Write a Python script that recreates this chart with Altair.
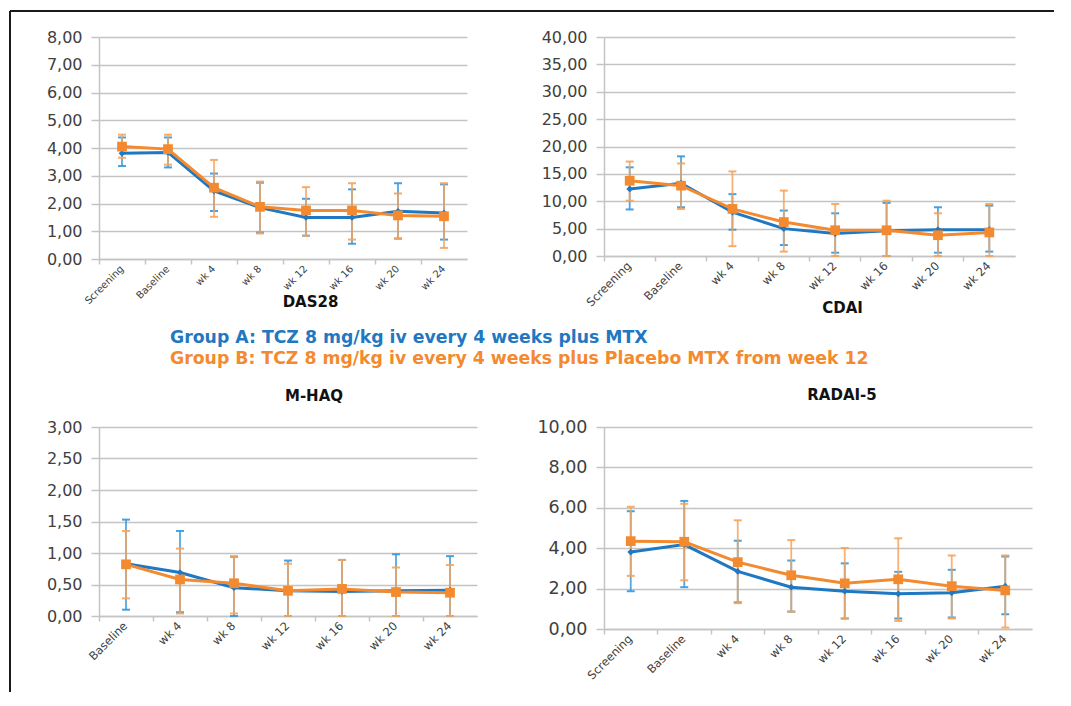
import altair as alt
import pandas as pd

# ---------------- data ----------------
cats8 = ["Screening", "Baseline", "wk 4", "wk 8", "wk 12", "wk 16", "wk 20", "wk 24"]
cats7 = ["Baseline", "wk 4", "wk 8", "wk 12", "wk 16", "wk 20", "wk 24"]
groups = ["Group A", "Group B"]

legend_a = "Group A: TCZ 8 mg/kg iv every 4 weeks plus MTX"
legend_b = "Group B: TCZ 8 mg/kg iv every 4 weeks plus Placebo MTX from week 12"

# DAS28
das_a_mean = [3.81, 3.84, 2.45, 1.85, 1.50, 1.50, 1.72, 1.66]
das_a_lo = [3.35, 3.30, 1.73, 0.95, 0.84, 0.55, 0.74, 0.70]
das_a_hi = [4.38, 4.38, 3.08, 2.75, 2.17, 2.51, 2.73, 2.69]
das_b_mean = [4.05, 3.96, 2.57, 1.88, 1.75, 1.75, 1.57, 1.54]
das_b_lo = [3.65, 3.40, 1.52, 0.92, 0.84, 0.70, 0.72, 0.40]
das_b_hi = [4.48, 4.48, 3.57, 2.79, 2.59, 2.73, 2.36, 2.73]
das_ticks = [0, 1, 2, 3, 4, 5, 6, 7, 8]

# CDAI
cdai_a_mean = [12.25, 13.3, 8.0, 5.0, 4.1, 4.6, 4.8, 4.8]
cdai_a_lo = [8.5, 8.9, 4.8, 2.0, 0.6, 0.0, 0.6, 0.8]
cdai_a_hi = [16.2, 18.2, 11.3, 8.3, 7.8, 9.7, 8.9, 9.2]
cdai_b_mean = [13.75, 12.85, 8.6, 6.2, 4.7, 4.7, 3.8, 4.3]
cdai_b_lo = [10.1, 8.6, 1.8, 0.8, 0.0, 0.0, 0.0, 0.0]
cdai_b_hi = [17.25, 16.9, 15.45, 11.95, 9.5, 10.1, 7.8, 9.5]
cdai_ticks = [0, 5, 10, 15, 20, 25, 30, 35, 40]

# M-HAQ
haq_a_mean = [0.83, 0.69, 0.45, 0.40, 0.39, 0.40, 0.41]
haq_a_lo = [0.10, 0.06, 0.0, 0.0, 0.0, 0.0, 0.0]
haq_a_hi = [1.53, 1.35, 0.94, 0.88, 0.89, 0.98, 0.95]
haq_b_mean = [0.82, 0.58, 0.52, 0.40, 0.43, 0.38, 0.37]
haq_b_lo = [0.28, 0.04, 0.04, 0.0, 0.0, 0.0, 0.0]
haq_b_hi = [1.35, 1.07, 0.95, 0.83, 0.89, 0.77, 0.81]
haq_ticks = [0, 0.5, 1.0, 1.5, 2.0, 2.5, 3.0]

# RADAI-5
rad_a_mean = [3.81, 4.18, 2.85, 2.07, 1.87, 1.74, 1.79, 2.12]
rad_a_lo = [1.87, 2.07, 1.32, 0.86, 0.52, 0.52, 0.57, 0.73]
rad_a_hi = [5.83, 6.34, 4.37, 3.39, 3.25, 2.83, 2.93, 3.59]
rad_b_mean = [4.35, 4.32, 3.31, 2.66, 2.26, 2.46, 2.12, 1.91]
rad_b_lo = [2.63, 2.41, 1.28, 0.86, 0.52, 0.40, 0.52, 0.07]
rad_b_hi = [6.05, 6.20, 5.38, 4.40, 4.01, 4.49, 3.64, 3.64]
rad_ticks = [0, 2, 4, 6, 8, 10]

# ---------------- styling ----------------
BLUE = "#1f78c1"
ORANGE = "#f48a2f"
BLUE_ERR = "#3597dc"
ORANGE_ERR = "#f6a35a"
GRID = "#c4c4c4"
TXT = "#404040"
FONT = "DejaVu Sans"


def make_df(cats, am, alo, ahi, bm, blo, bhi):
    rows = []
    for g, m, lo, hi in ((groups[0], am, alo, ahi), (groups[1], bm, blo, bhi)):
        for c, v, l, h in zip(cats, m, lo, hi):
            rows.append({"cat": c, "group": g, "mean": v, "lo": l, "hi": h})
    return pd.DataFrame(rows)


def panel(df, cats, yticks, xlab_size, ylab_size, xtitle=None, title_x=0, title_y=0):
    xs = alt.Scale(type="band", domain=cats, paddingInner=0, paddingOuter=0)
    ys = alt.Scale(domain=[yticks[0], yticks[-1]], nice=False, zero=False)
    yax = alt.Axis(
        values=yticks,
        labelExpr="replace(format(datum.value, '.2f'), '.', ',')",
        grid=True, gridColor=GRID, gridWidth=1.5,
        domainColor=GRID, domainWidth=1.5,
        tickColor=GRID, tickWidth=1.5, tickSize=8,
        labelFont=FONT, labelFontSize=ylab_size, labelColor=TXT, labelPadding=9,
        title=None,
    )
    main_axis_kw = dict(
        orient="bottom", ticks=False, labelAngle=-45, labelAlign="right",
        labelBaseline="middle", labelFont=FONT, labelFontSize=xlab_size,
        labelColor=TXT, labelPadding=8, domainColor=GRID, domainWidth=1.5,
        grid=False, labelOverlap=False,
    )
    if xtitle:
        main_axis_kw.update(title=xtitle, titleX=title_x, titleY=title_y,
                            titleAlign="center", titleBaseline="alphabetic",
                            titleFont=FONT, titleFontSize=15, titleFontWeight="bold",
                            titleColor="#111111")
    else:
        main_axis_kw.update(title=None)
    main_axis = alt.Axis(**main_axis_kw)
    tick_axis = alt.Axis(orient="bottom", labels=False, ticks=True, bandPosition=0,
                         tickSize=5, tickColor=GRID, tickWidth=1.5, domain=False,
                         grid=False, title=None)

    layers = []
    specs = [(groups[0], BLUE, BLUE_ERR, "diamond", 45),
             (groups[1], ORANGE, ORANGE_ERR, "square", 95)]
    for i, (g, col, ecol, shape, size) in enumerate(specs):
        base = alt.Chart(df).transform_filter(alt.datum.group == g)
        ax = main_axis if i == 0 else tick_axis
        layers.append(base.mark_rule(color=ecol, strokeWidth=1.8, opacity=0.85).encode(
            x=alt.X("cat:N", scale=xs, sort=cats, axis=ax),
            y=alt.Y("lo:Q", scale=ys, axis=yax),
            y2="hi:Q",
        ))
        layers.append(base.transform_fold(["lo", "hi"], as_=["k", "v"]).mark_tick(
            color=ecol, thickness=2, size=8, opacity=0.9).encode(
            x=alt.X("cat:N", scale=xs, sort=cats, axis=None),
            y=alt.Y("v:Q", scale=ys, axis=yax),
        ))
    for g, col, ecol, shape, size in specs:
        base = alt.Chart(df).transform_filter(alt.datum.group == g)
        layers.append(base.mark_line(color=col, strokeWidth=3).encode(
            x=alt.X("cat:N", scale=xs, sort=cats, axis=None),
            y=alt.Y("mean:Q", scale=ys, axis=yax),
        ))
        layers.append(base.mark_point(shape=shape, size=size, filled=True, opacity=1,
                                      color=col).encode(
            x=alt.X("cat:N", scale=xs, sort=cats, axis=None),
            y=alt.Y("mean:Q", scale=ys, axis=yax),
        ))
    return layers


das_df = make_df(cats8, das_a_mean, das_a_lo, das_a_hi, das_b_mean, das_b_lo, das_b_hi)
cdai_df = make_df(cats8, cdai_a_mean, cdai_a_lo, cdai_a_hi, cdai_b_mean, cdai_b_lo, cdai_b_hi)
haq_df = make_df(cats7, haq_a_mean, haq_a_lo, haq_a_hi, haq_b_mean, haq_b_lo, haq_b_hi)
rad_df = make_df(cats8, rad_a_mean, rad_a_lo, rad_a_hi, rad_b_mean, rad_b_lo, rad_b_hi)

# panel 1 (with legend text and frame)
p1_layers = panel(das_df, cats8, das_ticks, 10, 16, "DAS28", 211, 47)
leg_a = alt.Chart(pd.DataFrame({"t": [legend_a]})).mark_text(
    align="left", baseline="alphabetic", font=FONT, fontSize=17.3,
    fontWeight="bold", color=BLUE).encode(text="t:N", x=alt.value(71), y=alt.value(306))
leg_b = alt.Chart(pd.DataFrame({"t": [legend_b]})).mark_text(
    align="left", baseline="alphabetic", font=FONT, fontSize=17.3,
    fontWeight="bold", color=ORANGE).encode(text="t:N", x=alt.value(71), y=alt.value(327))
frame_top = alt.Chart(pd.DataFrame({"f": [0]})).mark_rule(color="#1a1a1a", strokeWidth=2).encode(
    x=alt.value(-89), x2=alt.value(955), y=alt.value(-26))
frame_left = alt.Chart(pd.DataFrame({"f": [0]})).mark_rule(color="#1a1a1a", strokeWidth=2).encode(
    x=alt.value(-89), y=alt.value(-26), y2=alt.value(655))

p1 = alt.layer(*p1_layers, leg_a, leg_b, frame_top, frame_left).resolve_axis(
    x="independent").properties(width=368, height=222)

p2 = alt.layer(*panel(cdai_df, cats8, cdai_ticks, 11.5, 16, "CDAI", 238, 56)).resolve_axis(
    x="independent").properties(width=411, height=219)

title_kw = dict(anchor="middle", baseline="alphabetic", font=FONT, fontSize=15,
                fontWeight="bold", color="#111111", offset=3)
p3 = alt.layer(*panel(haq_df, cats7, haq_ticks, 11.5, 16)).resolve_axis(
    x="independent").properties(width=378, height=189,
                                title=alt.TitleParams(text="M-HAQ", dx=26, **title_kw))
p4 = alt.layer(*panel(rad_df, cats8, rad_ticks, 11.5, 17.5)).resolve_axis(
    x="independent").properties(width=428, height=202,
                                title=alt.TitleParams(text="RADAI-5", dx=24, **title_kw))

chart = alt.concat(p1, p2, p3, p4, columns=2, spacing={"row": 168, "column": 77},
                   bounds="flush", align="all").properties(
    padding={"left": 1, "top": 2, "right": 0, "bottom": 0},
    background="white",
).configure_view(stroke=None)

chart.save("out.html", embed_options={"renderer": "svg", "actions": False})
